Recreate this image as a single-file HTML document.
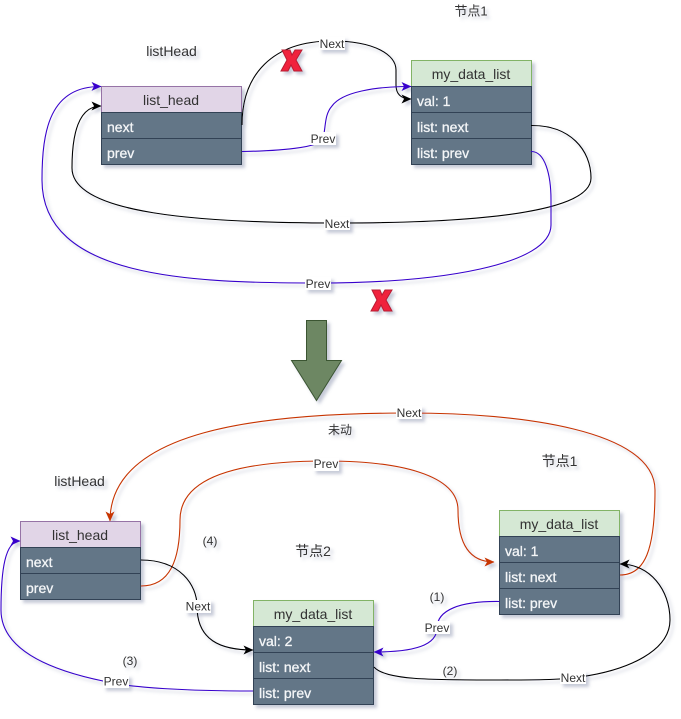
<!DOCTYPE html>
<html>
<head>
<meta charset="utf-8">
<style>
html,body{margin:0;padding:0;background:#fff;width:681px;height:719px;overflow:hidden}
svg{display:block}
text{font-family:"Liberation Sans","Noto Sans CJK SC",sans-serif;font-size:12px;fill:#333;text-anchor:middle;dominant-baseline:central}
.t14{font-size:14px}
.w{fill:#f4f6f8;stroke:#f4f6f8;stroke-width:.3;font-size:14px;text-anchor:start}
.c{fill:none;stroke-width:1.1}
.k{stroke:#000}.b{stroke:#3700CC}.o{stroke:#C73500}
.lb{fill:#fff}
.d{fill:#647687;stroke:#314354;stroke-width:1}
.p{fill:#e1d5e7;stroke:#9673a6;stroke-width:1}
.g{fill:#d5e8d4;stroke:#82b366;stroke-width:1}
.x{fill:#F0213C;stroke:#B81A33;stroke-width:1}
</style>
</head>
<body>
<svg width="681" height="719" viewBox="0 0 681 719" xmlns="http://www.w3.org/2000/svg">
<defs>
<filter id="s" x="-5%" y="-5%" width="110%" height="110%">
<feDropShadow dx="3" dy="3" stdDeviation="1.6" flood-color="#6a7498" flood-opacity="0.38"/>
</filter>
<marker id="ak" markerUnits="userSpaceOnUse" markerWidth="12" markerHeight="10" refX="9.5" refY="4.5" orient="auto"><path d="M10,4.5 L0,0 L2.5,4.5 L0,9 Z" fill="#000"/></marker>
<marker id="ab" markerUnits="userSpaceOnUse" markerWidth="12" markerHeight="10" refX="9.5" refY="4.5" orient="auto"><path d="M10,4.5 L0,0 L2.5,4.5 L0,9 Z" fill="#3700CC"/></marker>
<marker id="ao" markerUnits="userSpaceOnUse" markerWidth="12" markerHeight="10" refX="9.5" refY="4.5" orient="auto"><path d="M10,4.5 L0,0 L2.5,4.5 L0,9 Z" fill="#C73500"/></marker>
</defs>
<g filter="url(#s)">
<!-- top tables -->
<rect class="p" x="101.5" y="86.5" width="140" height="26"/>
<rect class="d" x="101.5" y="112.5" width="140" height="26"/>
<rect class="d" x="101.5" y="138.5" width="140" height="26"/>
<text class="t14" x="171" y="100">list_head</text>
<text class="w" x="107" y="127">next</text>
<text class="w" x="107" y="153">prev</text>

<rect class="g" x="411.5" y="60.5" width="120" height="26"/>
<rect class="d" x="411.5" y="86.5" width="120" height="26"/>
<rect class="d" x="411.5" y="112.5" width="120" height="26"/>
<rect class="d" x="411.5" y="138.5" width="120" height="26"/>
<text class="t14" x="471" y="74">my_data_list</text>
<text class="w" x="417" y="101">val: 1</text>
<text class="w" x="417" y="127">list: next</text>
<text class="w" x="417" y="153">list: prev</text>

<!-- top connectors -->
<path class="c k" marker-end="url(#ak)" d="M242,125 C242,75 272,41 332,41 C375,41 396,55 396,70 L396,85 C396,93 400,99 411,99"/>
<path class="c b" marker-end="url(#ab)" d="M242,151.5 C275,151 323,148 323,138 C326,128 324,115 332,106 C342,92 375,86.5 411,86.5"/>
<path class="c k" marker-end="url(#ak)" d="M531,125.5 C570,125 591,150 591,178 C591,212 480,223 337,223 C200,223 72,214 72,168 C72,130 80,106 101,106"/>
<path class="c b" marker-end="url(#ab)" d="M531,151.5 C545,151 551,175 551,200 L551,225 C551,265 440,283 318,283 C190,283 42,278 42,180 C42,130 50,86 101,86.5"/>
<rect class="lb" x="319" y="37" width="26" height="13"/><text x="332" y="44">Next</text>
<rect class="lb" x="310" y="132" width="26" height="13"/><text x="323" y="139">Prev</text>
<rect class="lb" x="324" y="217" width="26" height="13"/><text x="337" y="224">Next</text>
<rect class="lb" x="305" y="277" width="26" height="13"/><text x="318" y="284">Prev</text>

<text class="t14" x="171.5" y="51">listHead</text>
<text x="471" y="11" style="font-size:13px">节点1</text>

<!-- X marks -->
<path class="x" d="M282,50 L290,50 L292,55 L295,50 L302,50 L296,60 L302,71 L294,71 L291,65 L288,71 L281,71 L287,60 Z"/>
<path class="x" d="M372,290 L380,290 L382,295 L385,290 L392,290 L386,300 L392,311 L384,311 L381,305 L378,311 L371,311 L377,300 Z"/>

<!-- big arrow -->
<path d="M306.5,320.5 H326.5 V360.5 H341.5 L316.5,400.5 L291.5,360.5 H306.5 Z" fill="#6d8764" stroke="#3A5431" stroke-width="1"/>

<!-- bottom tables -->
<rect class="p" x="20.5" y="521.5" width="120" height="26"/>
<rect class="d" x="20.5" y="547.5" width="120" height="26"/>
<rect class="d" x="20.5" y="573.5" width="120" height="26"/>
<text class="t14" x="80" y="535">list_head</text>
<text class="w" x="26" y="562">next</text>
<text class="w" x="26" y="588">prev</text>

<rect class="g" x="499.5" y="510.5" width="120" height="26"/>
<rect class="d" x="499.5" y="536.5" width="120" height="26"/>
<rect class="d" x="499.5" y="562.5" width="120" height="26"/>
<rect class="d" x="499.5" y="588.5" width="120" height="26"/>
<text class="t14" x="559" y="524">my_data_list</text>
<text class="w" x="505" y="551">val: 1</text>
<text class="w" x="505" y="577">list: next</text>
<text class="w" x="505" y="603">list: prev</text>

<rect class="g" x="253.5" y="600.5" width="120" height="26"/>
<rect class="d" x="253.5" y="626.5" width="120" height="26"/>
<rect class="d" x="253.5" y="652.5" width="120" height="26"/>
<rect class="d" x="253.5" y="678.5" width="120" height="26"/>
<text class="t14" x="313" y="614">my_data_list</text>
<text class="w" x="259" y="641">val: 2</text>
<text class="w" x="259" y="667">list: next</text>
<text class="w" x="259" y="693">list: prev</text>

<!-- bottom connectors -->
<path class="c o" marker-end="url(#ao)" d="M620,575 C645,575 655,550 655,490 C655,430 520,413 409,413 C260,413 110,430 110,521"/>
<path class="c o" marker-end="url(#ao)" d="M141,586 C170,586 180,560 180,520 C180,480 230,461 326,461 C400,461 458,475 458,510 C458,545 470,562 494,562"/>
<path class="c k" marker-end="url(#ak)" d="M141,560 C180,560 197,585 197,606 C197,640 220,650 253,650"/>
<path class="c b" marker-end="url(#ab)" d="M253,691 C190,691 130,688 103,681 C50,670 1,650 1,610 C1,570 5,541 20,541"/>
<path class="c b" marker-end="url(#ab)" d="M499.5,601.5 C460,601 437,610 437,628 C437,645 415,652 374,652"/>
<path class="c k" marker-end="url(#ak)" d="M374,667 C385,680 430,680 500,680 C530,680 560,680 580,677 C630,670 670,650 670,620 C670,590 650,564 620,564"/>

<rect class="lb" x="396" y="406" width="26" height="13"/><text x="409" y="413">Next</text>
<rect class="lb" x="313" y="458" width="26" height="13"/><text x="326" y="464">Prev</text>
<rect class="lb" x="185" y="600" width="26" height="13"/><text x="198" y="606.5">Next</text>
<rect class="lb" x="103" y="675" width="26" height="13"/><text x="116" y="681.5">Prev</text>
<rect class="lb" x="424" y="621" width="26" height="13"/><text x="437" y="628">Prev</text>
<rect class="lb" x="560" y="671" width="26" height="13"/><text x="573" y="678">Next</text>

<text class="t14" x="79.5" y="481">listHead</text>
<text x="340" y="430">未动</text>
<text x="559.5" y="461" style="font-size:14px">节点1</text>
<text x="313" y="551" style="font-size:14px">节点2</text>
<text x="210" y="541">(4)</text>
<text x="130" y="661">(3)</text>
<text x="437" y="597">(1)</text>
<text x="450" y="671">(2)</text>
</g>
</svg>
</body>
</html>
